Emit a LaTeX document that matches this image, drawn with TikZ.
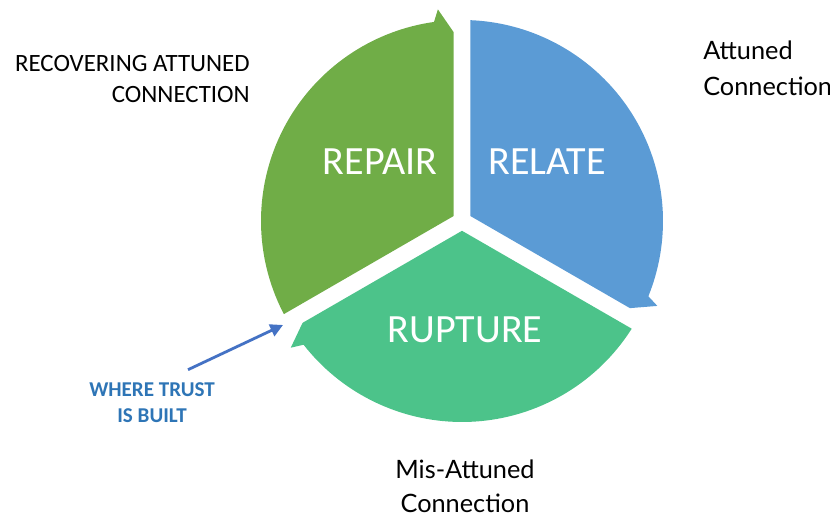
\documentclass[tikz,border=0pt]{standalone}
\usepackage{fontspec}
\setmainfont{Carlito}
\newfontfamily\capfont{Lato}
\usetikzlibrary{calc,arrows.meta}

\definecolor{repgreen}{HTML}{70AD47}
\definecolor{relblue}{HTML}{5B9BD5}
\definecolor{rupgreen}{HTML}{4CC38A}
\definecolor{trustblue}{HTML}{2E75B6}
\definecolor{arrowblue}{HTML}{4472C4}

\tikzset{
  bigtext/.style={text=white, inner sep=0pt, font=\fontsize{28.5}{34}\selectfont},
  sidetext/.style={inner sep=0pt, align=right, font=\fontsize{17.7}{22}\selectfont},
  captext/.style={inner sep=0pt, font=\capfont\fontsize{18}{26}\selectfont},
  trusttext/.style={inner sep=0pt, align=center, text=trustblue, font=\bfseries\fontsize{15}{18.5}\selectfont},
}

\begin{document}
\begin{tikzpicture}[x=0.025cm, y=0.025cm]
 \useasboundingbox (0,0) rectangle (830,517);

 %wheel
 \coordinate (C) at (462,296);
 \def\R{201}
 \def\g{8.5}
 \foreach \s/\col/\name/\tx/\ty in {210/repgreen/REPAIR/380/355, 90/relblue/RELATE/547/355, -30/rupgreen/RUPTURE/465/187} {
   \pgfmathsetmacro{\endang}{\s-120}
   \fill[\col] ($(C)+(\s-60:9.8)$) -- ($(C)+(\s-2.4:\R)$)
        arc[start angle=\s-2.4, end angle=\endang+8, radius=\R]
        -- ($(C)+(\endang+6.5:213)$) -- ($(C)+(\endang:189)+(\endang+90:\g)$) -- cycle;
   \node[bigtext] (\name) at (\tx,\ty) {\name};
 }

 %labels
 \node[sidetext, anchor=east] (recover) at (250,438) {RECOVERING ATTUNED\\CONNECTION};
 \node[captext, anchor=west, align=left] (attuned) at (703,448.5) {Attuned\\Connection};
 \node[captext, align=center, font=\capfont\fontsize{18}{24}\selectfont] (misattuned) at (465,31) {Mis-Attuned\\Connection};
 \node[trusttext] (trust) at (152,114) {WHERE TRUST\\IS BUILT};

 %arrow
 \coordinate (gap) at (283,192);
 \draw[arrowblue, line width=2pt, -{Triangle[length=9pt,width=9pt]}] ([shift={(36,13)}]trust.north) -- (gap);

\end{tikzpicture}
\end{document}
